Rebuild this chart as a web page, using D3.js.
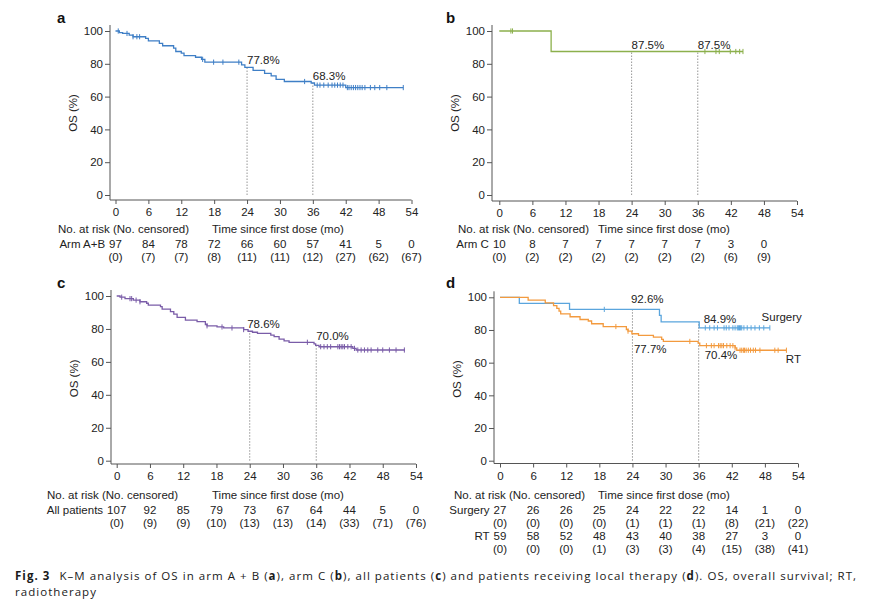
<!DOCTYPE html>
<html><head><meta charset="utf-8">
<script src="https://cdn.jsdelivr.net/npm/d3@7"></script>
<style>
body{margin:0;background:#fff}
svg{display:block}
text{font-family:"Liberation Sans",Arial,Helvetica,sans-serif;fill:#222}
</style>
</head><body>
<svg id="chart" width="870" height="605"></svg>
<script>
// ---------------- DATA ----------------
const timeTicks = [0, 6, 12, 18, 24, 30, 36, 42, 48, 54];
const osTicks = [0, 20, 40, 60, 80, 100];
const landmarkTimes = [24, 36];

// Panel a: Arm A+B
const armABSteps = [[0,100],[0.7,99],[1.3,98.5],[2.5,97.5],[3.2,96.5],[5.5,95.5],[6,94],[8,92.5],[8.6,91],[10.6,89.5],[11,87.5],[12,86.5],[12.5,85],[14.6,84],[15.7,82.7],[16.3,81],[23,79.3],[23.6,77.8],[25.1,76],[27.2,74.2],[28.4,72.6],[29.3,70.5],[30.8,69.2],[35.7,68.3],[36.3,67],[42,65.5]];
const armABEnd = 52.5;
const armABCensored = [0.5,2.1,3.2,3.9,4.4,15.9,17.9,19.6,22.5,34.5,36.8,37.3,38,38.8,39.5,40,40.5,41,41.5,42.3,42.6,43,43.4,43.8,44.2,44.6,45,45.5,46.5,47.3,48.2,49.5,52.5];
const armABLandmarks = [77.8, 68.3];
const armABAtRisk = [97, 84, 78, 72, 66, 60, 57, 41, 5, 0];
const armABNoCensored = [0, 7, 7, 8, 11, 11, 12, 27, 62, 67];

// Panel b: Arm C
const armCSteps = [[0,100],[9.4,87.5]];
const armCEnd = 44.2;
const armCCensored = [2.1,2.4,37.3,39.3,39.9,41.9,42.9,43.6,44.2];
const armCLandmarks = [87.5, 87.5];
const armCAtRisk = [10, 8, 7, 7, 7, 7, 7, 3, 0];
const armCNoCensored = [0, 2, 2, 2, 2, 2, 2, 6, 9];

// Panel c: All patients
const allSteps = [[0,100],[0.6,99.3],[1.5,98.4],[3,97.5],[4.2,96.5],[5.4,95.6],[5.7,94.5],[7.9,93.5],[8.2,92],[9.7,90.5],[10.3,89],[10.9,87],[12.4,85.4],[14.5,84.4],[16,82.7],[16.3,81.9],[18.1,81.2],[19.3,80.6],[22.9,79.6],[23.7,78.6],[24.5,78],[25.4,77.3],[27.8,76.3],[28.4,75.3],[29.3,73.8],[30.2,72.7],[31.1,71.9],[35.6,70.9],[35.9,70.0],[36.5,69.2],[42.6,68.2],[43.2,67.2]];
const allEnd = 52;
const allCensored = [0.9,2.4,2.7,3.5,4.2,16.3,19,20.8,22.9,34.4,36.8,37.4,38,38.6,39.9,40.2,40.5,40.8,41.1,41.7,42.3,42.9,43.5,44.1,44.7,45.3,45.9,47.1,48,49.2,50.4,51.9];
const allLandmarks = [78.6, 70.0];
const allAtRisk = [107, 92, 85, 79, 73, 67, 64, 44, 5, 0];
const allNoCensored = [0, 9, 9, 10, 13, 13, 14, 33, 71, 76];

// Panel d: Surgery vs RT
const surgerySteps = [[0,100],[3.5,96.3],[12.6,92.6],[28.9,88.9],[29.2,84.9],[36.1,81.3]];
const surgeryEnd = 48.9;
const surgeryCensored = [18.9,37.2,38,38.8,39.4,40.6,41,41.5,42.2,42.6,43,43.2,43.4,43.6,43.8,44.2,44.8,45.5,46.2,47,47.8,48.9];
const surgeryLandmarks = [92.6, 84.9];
const surgeryAtRisk = [27, 26, 26, 25, 24, 22, 22, 14, 1, 0];
const surgeryNoCensored = [0, 0, 0, 0, 1, 1, 1, 8, 21, 22];

const rtSteps = [[0,100],[5.1,98.3],[8.2,96.6],[9.7,94.9],[10.3,93.2],[10.7,91.5],[11,89.8],[12.7,88.1],[14.5,86.4],[16,85.5],[16.6,83.8],[18.7,82.1],[22.9,80.3],[23.2,79.3],[23.9,77.7],[25.1,76.7],[27.8,75.6],[29.3,74.3],[29.6,73],[35.9,72],[36.2,70.4],[42.6,69],[42.9,67.6]];
const rtEnd = 51.9;
const rtCensored = [21,23.2,34.4,37.4,38.3,38.8,39.6,39.9,40.2,40.5,41.1,41.7,42.2,42.6,43.5,43.8,44.1,44.3,44.6,45,45.4,45.9,46.3,47.1,49.8,50.4,51.9];
const rtLandmarks = [77.7, 70.4];
const rtAtRisk = [59, 58, 52, 48, 43, 40, 38, 27, 3, 0];
const rtNoCensored = [0, 0, 0, 1, 3, 3, 4, 15, 38, 41];

// caption pieces (text, bold)
const captionLine1 = [['Fig. 3', 1], ['K–M analysis of OS in arm A\u00a0+\u00a0B (', 0], ['a', 1], ['), arm C (', 0], ['b', 1],
  ['), all patients (', 0], ['c', 1], [') and patients receiving local therapy (', 0], ['d', 1], ['). OS, overall survival; RT,', 0]];
const captionLine2 = 'radiotherapy';

// ---------------- DRAWING ----------------
const svg = d3.select('#chart');
const FS = 11.5;

function stepValue(steps, t) {
  let v = steps[0][1];
  for (const s of steps) { if (s[0] <= t) v = s[1]; }
  return v;
}

function drawPanel(cfg) {
  const g = svg.append('g');
  const x = d3.scaleLinear().domain([0, 54]).range([cfg.x0, cfg.x1]);
  const y = d3.scaleLinear().domain([0, 100]).range([cfg.yb, cfg.yt]);
  const axisCol = '#555';

  g.append('text').attr('x', cfg.lx).attr('y', cfg.ly).text(cfg.letter)
    .style('font-weight', 'bold').style('font-size', '15px').style('fill', '#111');

  g.append('line').attr('x1', cfg.ax).attr('x2', cfg.ax).attr('y1', cfg.yt - 6).attr('y2', cfg.ay)
    .attr('stroke', axisCol).attr('stroke-width', 1);
  g.append('line').attr('x1', cfg.ax).attr('x2', x(54)).attr('y1', cfg.ay).attr('y2', cfg.ay)
    .attr('stroke', axisCol).attr('stroke-width', 1);

  const yAx = g.append('g').attr('transform', `translate(${cfg.ax},0)`)
    .call(d3.axisLeft(y).tickValues(osTicks).tickSize(5).tickPadding(2));
  yAx.select('.domain').remove();
  yAx.selectAll('line').attr('stroke', axisCol);
  yAx.selectAll('text').style('font-size', FS + 'px').style('font-family', '"Liberation Sans",Arial,sans-serif').attr('fill', '#222');

  const xAx = g.append('g').attr('transform', `translate(0,${cfg.ay})`)
    .call(d3.axisBottom(x).tickValues(timeTicks).tickSize(4).tickPadding(4));
  xAx.select('.domain').remove();
  xAx.selectAll('line').attr('stroke', axisCol);
  xAx.selectAll('text').style('font-size', FS + 'px').style('font-family', '"Liberation Sans",Arial,sans-serif').attr('fill', '#222');

  g.append('text').attr('transform', `translate(${cfg.ax - 33},${(cfg.yt + cfg.yb) / 2}) rotate(-90)`)
    .attr('text-anchor', 'middle').style('font-size', FS + 'px').text('OS (%)');

  const ref = cfg.series[cfg.refSeries];
  landmarkTimes.forEach((t, i) => {
    g.append('line').attr('x1', x(t)).attr('x2', x(t)).attr('y1', y(0)).attr('y2', y(ref.landmarks[i]))
      .attr('stroke', '#8a8a8a').attr('stroke-width', 0.9).attr('stroke-dasharray', '1.5,1.5');
  });

  const line = d3.line().x(d => x(d[0])).y(d => y(d[1])).curve(d3.curveStepAfter);
  cfg.series.forEach(s => {
    const pts = s.steps.concat([[s.end, s.steps[s.steps.length - 1][1]]]);
    g.append('path').attr('d', line(pts)).attr('fill', 'none').attr('stroke', s.color).attr('stroke-width', 1.3);
    g.selectAll(null).data(s.censored).enter().append('line')
      .attr('x1', d => x(d)).attr('x2', d => x(d))
      .attr('y1', d => y(stepValue(s.steps, d)) - 2.6).attr('y2', d => y(stepValue(s.steps, d)) + 2.6)
      .attr('stroke', s.color).attr('stroke-width', 1);
    s.labelOffsets.forEach((o, i) => {
      g.append('text').attr('x', x(landmarkTimes[i]) + o[0]).attr('y', y(s.landmarks[i]) + o[1])
        .style('font-size', FS + 'px').text(s.landmarks[i].toFixed(1) + '%');
    });
    if (s.nameLabel) {
      g.append('text').attr('x', x(s.nameLabel[0])).attr('y', y(s.nameLabel[1]))
        .style('font-size', FS + 'px').text(s.name);
    }
  });

  const tb = cfg.tickBase;
  g.append('text').attr('x', cfg.hx).attr('y', tb + 16.5).style('font-size', FS + 'px').text('No. at risk (No. censored)');
  g.append('text').attr('x', cfg.tx).attr('y', tb + 16.5).style('font-size', FS + 'px').text('Time since first dose (mo)');
  cfg.series.forEach((s, si) => {
    const rowY = tb + 31.5 + si * 26;
    const nums = g.selectAll(null).data(s.atRisk).enter().append('text')
      .attr('x', (d, i) => x(timeTicks[i])).attr('y', rowY).attr('text-anchor', 'middle')
      .style('font-size', FS + 'px').text(d => d);
    const w0 = nums.node().getComputedTextLength();
    g.append('text').attr('x', x(0) - w0 / 2 - 4).attr('y', rowY).attr('text-anchor', 'end')
      .style('font-size', FS + 'px').text(s.name);
    g.selectAll(null).data(s.noCensored).enter().append('text')
      .attr('x', (d, i) => x(timeTicks[i])).attr('y', rowY + 13.5).attr('text-anchor', 'middle')
      .style('font-size', FS + 'px').text(d => '(' + d + ')');
  });
}

drawPanel({
  letter: 'a', lx: 57, ly: 23, x0: 115.5, x1: 411.5, yt: 31, yb: 195, ax: 110, ay: 200,
  tickBase: 216, hx: 58, tx: 212, refSeries: 0,
  series: [{ name: 'Arm A+B', color: '#3f7fc6', steps: armABSteps, end: armABEnd, censored: armABCensored,
    landmarks: armABLandmarks, labelOffsets: [[0, -3], [0, -3]], atRisk: armABAtRisk, noCensored: armABNoCensored }]
});
drawPanel({
  letter: 'b', lx: 446, ly: 23, x0: 499.3, x1: 797, yt: 31, yb: 195, ax: 492, ay: 201,
  tickBase: 216, hx: 458, tx: 598, refSeries: 0,
  series: [{ name: 'Arm C', color: '#8cb04c', steps: armCSteps, end: armCEnd, censored: armCCensored,
    landmarks: armCLandmarks, labelOffsets: [[0, -3], [0, -3]], atRisk: armCAtRisk, noCensored: armCNoCensored }]
});
drawPanel({
  letter: 'c', lx: 57, ly: 288, x0: 116.7, x1: 416, yt: 296, yb: 460.7, ax: 111, ay: 464,
  tickBase: 482, hx: 47, tx: 212, refSeries: 0,
  series: [{ name: 'All patients', color: '#7a5ca8', steps: allSteps, end: allEnd, censored: allCensored,
    landmarks: allLandmarks, labelOffsets: [[-2.5, -3], [0, -5]], atRisk: allAtRisk, noCensored: allNoCensored }]
});
drawPanel({
  letter: 'd', lx: 446, ly: 288, x0: 500, x1: 798, yt: 297.3, yb: 460.7, ax: 494, ay: 463.5,
  tickBase: 482, hx: 454, tx: 598, refSeries: 0,
  series: [
    { name: 'Surgery', color: '#5aa5dd', steps: surgerySteps, end: surgeryEnd, censored: surgeryCensored,
      landmarks: surgeryLandmarks, labelOffsets: [[-1.5, -6], [5, 1.5]], nameLabel: [47.4, 85.2],
      atRisk: surgeryAtRisk, noCensored: surgeryNoCensored },
    { name: 'RT', color: '#f39a3e', steps: rtSteps, end: rtEnd, censored: rtCensored,
      landmarks: rtLandmarks, labelOffsets: [[1.5, 19], [6, 13]], nameLabel: [51.8, 59.5],
      atRisk: rtAtRisk, noCensored: rtNoCensored }
  ]
});

// caption: separate text pieces laid out side by side, letter-spaced to fill the line
const capG = svg.append('g');
const capFs = 11.5;
const capStart = 15, capEnd = 857, firstGap = 9;
const pieces = captionLine1.map(p => capG.append('text').attr('y', 579.5)
  .style('font-family', '"Open Sans",sans-serif').style('font-size', capFs + 'px')
  .style('font-weight', p[1] ? 'bold' : 'normal').style('fill', '#1a1a1a').text(p[0]));
let natural = 0, nChars = 0;
pieces.forEach((t, i) => { natural += t.node().getComputedTextLength(); nChars += captionLine1[i][0].length; });
const ls = Math.max(0, (capEnd - capStart - firstGap - natural) / nChars);
let cx = capStart;
pieces.forEach((t, i) => {
  t.style('letter-spacing', ls + 'px').attr('x', cx);
  cx += t.node().getComputedTextLength() + (i === 0 ? firstGap : 0);
});
capG.append('text').attr('x', capStart).attr('y', 596).style('font-family', '"Open Sans",sans-serif')
  .style('font-size', capFs + 'px').style('letter-spacing', ls + 'px').style('fill', '#1a1a1a').text(captionLine2);
</script>
</body></html>
